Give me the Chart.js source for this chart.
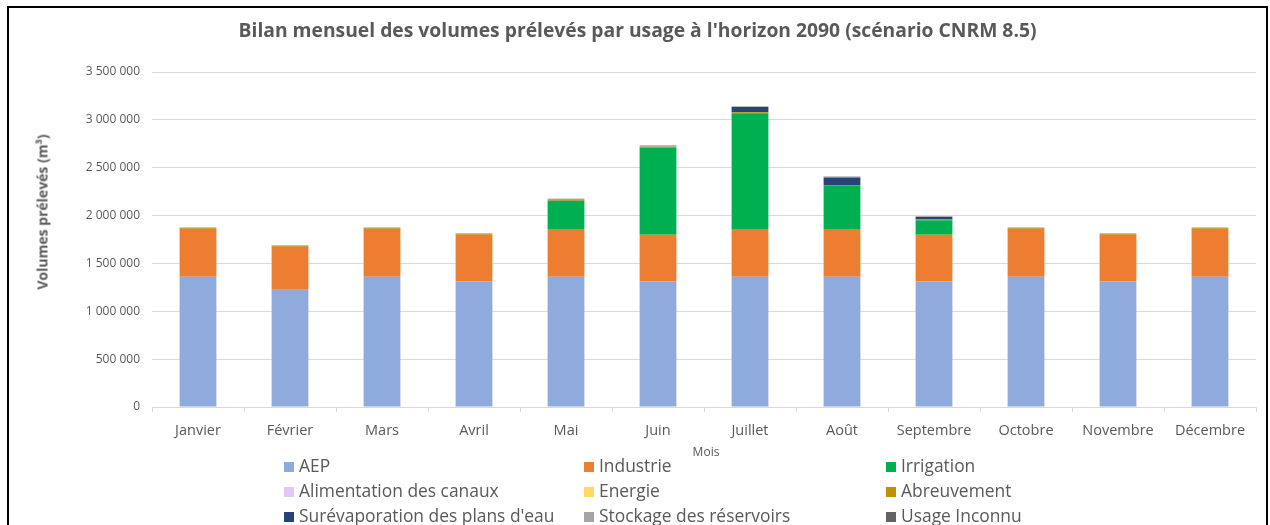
<!DOCTYPE html>
<html lang="fr">
<head>
<meta charset="utf-8">
<title>Bilan mensuel des volumes prélevés</title>
<script src="https://cdn.jsdelivr.net/npm/chart.js@4.4.1/dist/chart.umd.min.js"></script>
<style>
  html, body { margin: 0; padding: 0; background: #fff; }
  body { width: 1270px; height: 525px; overflow: hidden; position: relative; font-family: "Open Sans", sans-serif; color: #595959; }
  #frame { position: absolute; left: 7px; top: 6px; width: 1261px; height: 540px; border: 2px solid #000; box-sizing: border-box; }
  #wrap { position: absolute; left: 0; top: 0; width: 1270px; height: 525px; }
  #title { position: absolute; left: 0; width: 1275px; top: 17px; text-align: center; font-weight: bold; font-size: 19.3px; line-height: 26px; }
  #ytitle { position: absolute; left: 42px; top: 212px; transform: translate(-50%, -50%) rotate(-90deg); font-weight: bold; font-size: 14px; white-space: nowrap; }
  #xtitle { position: absolute; left: 706px; top: 451px; transform: translate(-50%, -50%); font-size: 12px; }
  .lg { position: absolute; font-size: 17.4px; line-height: 22px; white-space: nowrap; transform: translateY(-50%); }
  .lg i { display: inline-block; width: 10px; height: 10px; margin-right: 5px; vertical-align: 0; }
</style>
</head>
<body>
<div id="frame"></div>
<div id="wrap"><canvas id="chart" width="1270" height="525"></canvas></div>
<div id="title">Bilan mensuel des volumes prélevés par usage à l'horizon 2090 (scénario CNRM 8.5)</div>
<div id="ytitle">Volumes prélevés (m³)</div>
<div id="xtitle">Mois</div>
<div id="legend"></div>

<script>
// Data (m³)
const months = ['Janvier', 'Février', 'Mars', 'Avril', 'Mai', 'Juin', 'Juillet', 'Août', 'Septembre', 'Octobre', 'Novembre', 'Décembre'];

const aep          = [1360000, 1225000, 1360000, 1310000, 1360000, 1310000, 1360000, 1360000, 1310000, 1360000, 1310000, 1360000];
const industrie    = [500000, 450000, 500000, 490000, 500000, 490000, 500000, 500000, 490000, 500000, 490000, 500000];
const irrigation   = [0, 0, 0, 0, 295000, 910000, 1210000, 450000, 150000, 0, 0, 0];
const canaux       = [0, 0, 0, 0, 0, 0, 0, 0, 0, 0, 0, 0];
const energie      = [0, 0, 0, 0, 0, 0, 0, 0, 0, 0, 0, 0];
const abreuvement  = [8000, 8000, 8000, 8000, 8000, 8000, 9000, 9000, 9000, 8000, 8000, 8000];
const surevap      = [0, 0, 0, 0, 0, 0, 55000, 80000, 25000, 0, 0, 0];
const stockage     = [6000, 5000, 6000, 5000, 10000, 15000, 6000, 6000, 8000, 6000, 5000, 6000];
const inconnu      = [1000, 1000, 1000, 1000, 2000, 3000, 2000, 2000, 3000, 1000, 1000, 1000];

const yTicks = [0, 500000, 1000000, 1500000, 2000000, 2500000, 3000000, 3500000];

const series = [
    { label: 'AEP', data: aep, color: '#8faadc' },
    { label: 'Industrie', data: industrie, color: '#ed7d31' },
    { label: 'Irrigation', data: irrigation, color: '#00b050' },
    { label: 'Alimentation des canaux', data: canaux, color: '#e2c8f6' },
    { label: 'Energie', data: energie, color: '#ffd966' },
    { label: 'Abreuvement', data: abreuvement, color: '#bf9000' },
    { label: "Surévaporation des plans d'eau", data: surevap, color: '#264478' },
    { label: 'Stockage des réservoirs', data: stockage, color: '#a5a5a5' },
    { label: 'Usage Inconnu', data: inconnu, color: '#636363' }
];

const fmt = v => String(v).replace(/\B(?=(\d{3})+(?!\d))/g, ' ');
const grey = '#595959';
const gridColor = '#d9d9d9';

const chart = new Chart(document.getElementById('chart'), {
    type: 'bar',
    data: {
        labels: months,
        datasets: series.map(s => ({
            label: s.label,
            data: s.data,
            backgroundColor: s.color,
            borderWidth: 0,
            barPercentage: 0.4,
            categoryPercentage: 1
        }))
    },
    options: {
        responsive: false,
        animation: false,
        layout: { padding: { left: 52, right: 14, top: 72, bottom: 78 } },
        plugins: { legend: { display: false }, title: { display: false }, tooltip: { enabled: false } },
        scales: {
            x: {
                stacked: true,
                grid: { offset: true, drawOnChartArea: false, tickLength: 5, color: gridColor },
                border: { color: gridColor },
                ticks: { color: grey, font: { family: 'Open Sans', size: 14.5 }, padding: 10, maxRotation: 0 },
                afterFit: s => { s.height = 40; }
            },
            y: {
                stacked: true,
                min: 0,
                max: 3500000,
                afterBuildTicks: s => { s.ticks = yTicks.map(v => ({ value: v })); },
                grid: { color: gridColor, drawTicks: false },
                border: { display: false },
                ticks: { color: grey, font: { family: 'Open Sans', size: 12 }, padding: 12, callback: v => fmt(v) },
                afterFit: s => { s.width = 100; }
            }
        }
    }
});

// Legend laid out in 3 columns like the original
const legend = document.getElementById('legend');
const cols = [284, 584, 886];
const rows = [465, 490, 515];
chart.data.datasets.forEach((ds, i) => {
    const el = document.createElement('div');
    el.className = 'lg';
    el.style.left = cols[i % 3] + 'px';
    el.style.top = rows[Math.floor(i / 3)] + 'px';
    el.innerHTML = '<i style="background:' + ds.backgroundColor + '"></i>' + ds.label;
    legend.appendChild(el);
});
</script>
</body>
</html>
